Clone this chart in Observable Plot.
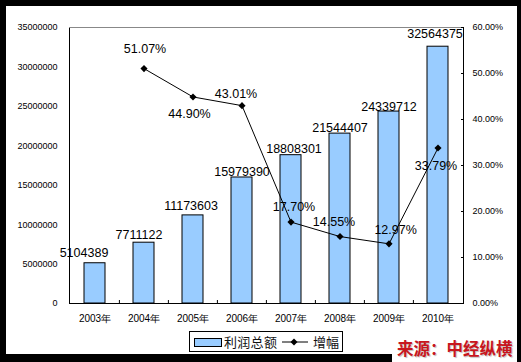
<!DOCTYPE html>
<html><head><meta charset="utf-8">
<script src="https://cdn.jsdelivr.net/npm/d3@7"></script>
<script src="https://cdn.jsdelivr.net/npm/@observablehq/plot@0.6"></script>
<style>
body{margin:0;background:#000;width:521px;height:362px;overflow:hidden;position:relative;font-family:"Liberation Sans",Arial,sans-serif}
#panel{position:absolute;left:6px;top:6px;width:511px;height:348px;background:#fff}
#chart svg{display:block}
#legend{position:absolute;left:189px;top:331px;width:152px;height:19px;border:1px solid #000;background:#fff;font-size:13px;color:#111;font-family:"Noto Sans CJK SC",sans-serif}
#legend .sw{position:absolute;left:4px;top:6px;width:26px;height:7px;background:#99ccff;border:1px solid #000}
#legend .t1{position:absolute;left:34px;top:0px;line-height:19px;letter-spacing:0.3px}
#legend svg{position:absolute;left:92px;top:0}
#legend .t2{position:absolute;left:123px;top:0px;line-height:19px}
#src{position:absolute;left:392px;top:337px;width:125px;height:25px;background:#fff}
#src span{position:absolute;left:5px;top:0px;font-family:"Noto Sans CJK SC",sans-serif;font-weight:bold;font-size:16.5px;line-height:22px;color:#c8161d;text-shadow:1px 1px 1px rgba(0,0,0,0.25);white-space:nowrap}
</style></head>
<body>
<div id="panel"><div id="chart"></div></div>
<div id="legend"><div class="sw"></div><span class="t1">利润总额</span>
<svg width="30" height="19"><line x1="0" y1="10" x2="26" y2="10" stroke="#000"/><path d="M12,6.5L15.5,10L12,13.5L8.5,10Z" fill="#000"/></svg>
<span class="t2">增幅</span></div>
<div id="src"><span>来源：中经纵横</span></div>
<script>
const years = ["2003年","2004年","2005年","2006年","2007年","2008年","2009年","2010年"];
const profit = [5104389, 7711122, 11173603, 15979390, 18808301, 21544407, 24339712, 32564375];
const growth = [null, 51.07, 44.90, 43.01, 17.70, 14.55, 12.97, 33.79];
const leftTicks = [0, 5000000, 10000000, 15000000, 20000000, 25000000, 30000000, 35000000];
const rightTicks = [0, 10, 20, 30, 40, 50, 60];

// layout nudges for data labels (px)
const barLabelDx = [-11, -5, -2, 0, 3, 0, 0, -3];
const barLabelDy = [-6, -4, -5, -1, -2, -2, -1, -9];
const pctDx = [0, 1, -3.5, -6, 3, -6, 6.6, -2];
const pctDy = [0, -20, 17, -12, -15, -15, -14, 17.5];

const yMax = 35000000, pctMax = 60;
const toY = p => p / pctMax * yMax;
const idx = years.map((_, i) => i);
const gIdx = idx.filter(i => growth[i] != null);

const marks = [
  Plot.barY(idx, {x: i => years[i], y: i => profit[i], fill: "#99ccff", stroke: "#000", strokeWidth: 1}),
  Plot.frame({stroke: "#000"}),
  Plot.ruleY([yMax], {stroke: "#888"}),
  Plot.ruleX(years.slice(1), {x: d => d, y1: 0, y2: yMax * 3 / 276, dx: -24.6, stroke: "#000"}),
  Plot.axisY(leftTicks, {anchor: "left", tickSize: 0, tickPadding: 12, tickFormat: d => String(d), fontSize: 9, fill: "#000", label: null}),
  Plot.axisY(rightTicks.map(toY), {anchor: "right", tickSize: -3, tickPadding: 12, tickFormat: d => (d / yMax * pctMax).toFixed(2) + "%", fontSize: 9, fill: "#000", label: null}),
  Plot.axisX({tickSize: 0, tickPadding: 11, fontSize: 10, fill: "#000", label: null}),
  Plot.line(gIdx, {x: i => years[i], y: i => toY(growth[i]), stroke: "#000", strokeWidth: 1}),
  Plot.dot(gIdx, {x: i => years[i], y: i => toY(growth[i]), symbol: "diamond2", r: 3.2, fill: "#000", stroke: null})
];
idx.forEach(i => {
  marks.push(Plot.text([i], {x: k => years[k], y: k => profit[k], text: k => String(profit[k]), lineAnchor: "bottom", dx: barLabelDx[i], dy: barLabelDy[i], fontSize: 12.5, fill: "#000"}));
});
gIdx.forEach(i => {
  marks.push(Plot.text([i], {x: k => years[k], y: k => toY(growth[k]), text: k => growth[k].toFixed(2) + "%", lineAnchor: "middle", dx: pctDx[i], dy: pctDy[i], fontSize: 12.5, fill: "#000"}));
});

const chart = Plot.plot({
  width: 511, height: 322,
  marginLeft: 63, marginRight: 54, marginTop: 21, marginBottom: 25,
  style: {fontFamily: "'Liberation Sans', Arial, sans-serif", background: "transparent", overflow: "visible"},
  x: {domain: years, type: "band", paddingInner: 0.57, paddingOuter: 0.285},
  y: {domain: [0, yMax]},
  marks
});
document.getElementById("chart").appendChild(chart);
</script>
</body></html>
